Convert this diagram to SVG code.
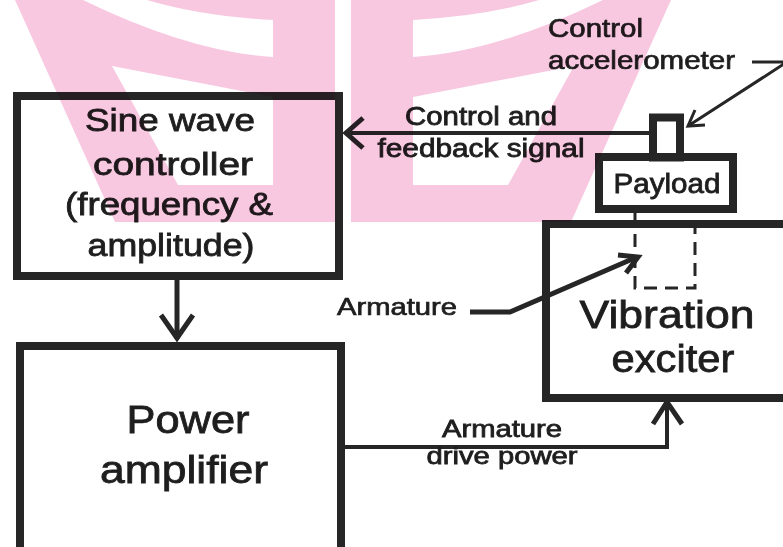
<svg xmlns="http://www.w3.org/2000/svg" width="783" height="547" viewBox="0 0 783 547">
<style>
.box{fill:none;stroke:#262626;stroke-width:8}
.ln{fill:none;stroke:#262626;stroke-linejoin:miter}
.t{font-family:"Liberation Sans",Arial,sans-serif;fill:#1e1e1e;stroke:#1e1e1e;stroke-width:0.8;text-anchor:middle}
.tl{font-family:"Liberation Sans",Arial,sans-serif;fill:#1e1e1e;stroke:#1e1e1e;stroke-width:0.7;text-anchor:start}
.wm{fill:#F8C8E1;fill-rule:evenodd}
</style>
<defs>
<path id="wmHalf" class="wm" d="M15,0 H335 V222 H115 Z M83,0 Q190,52 273,57 V20 Q200,16 147,0 Z M112,66 L273,97 V185 H178 Z"/>
</defs>
<rect x="0" y="0" width="783" height="547" fill="#fff"/>

<g id="sine-controller">
<rect class="box" x="17" y="96" width="322" height="180"/>
<text class="t" font-size="31" x="170" y="131" textLength="170" lengthAdjust="spacingAndGlyphs">Sine wave</text>
<text class="t" font-size="31" x="173" y="175" textLength="160" lengthAdjust="spacingAndGlyphs">controller</text>
<text class="t" font-size="31" x="169" y="215" textLength="208" lengthAdjust="spacingAndGlyphs">(frequency &amp;</text>
<text class="t" font-size="31" x="171" y="256" textLength="167" lengthAdjust="spacingAndGlyphs">amplitude)</text>
</g>

<g id="power-amplifier">
<rect class="box" x="20" y="346" width="321" height="230"/>
<text class="t" font-size="38" x="188" y="433" textLength="123" lengthAdjust="spacingAndGlyphs">Power</text>
<text class="t" font-size="38" x="184" y="483" textLength="168" lengthAdjust="spacingAndGlyphs">amplifier</text>
</g>

<g id="vibration-exciter">
<rect class="box" x="546" y="224" width="260" height="174"/>
<text class="t" font-size="39" x="667" y="328" textLength="175" lengthAdjust="spacingAndGlyphs">Vibration</text>
<text class="t" font-size="39" x="673" y="372" textLength="123" lengthAdjust="spacingAndGlyphs">exciter</text>
</g>

<g id="armature">
<path class="ln" d="M635,213 V288 H695 V213" stroke-width="3" stroke-dasharray="13 8"/>
<text class="tl" font-size="24" x="337" y="315" textLength="120" lengthAdjust="spacingAndGlyphs">Armature</text>
</g>

<g id="payload">
<rect class="box" x="599" y="157" width="134" height="52"/>
<text class="t" font-size="28" x="667" y="193" textLength="107" lengthAdjust="spacingAndGlyphs">Payload</text>
</g>

<g id="control-accelerometer">
<rect class="box" x="653" y="117.5" width="27" height="40" stroke-width="9"/>
<text class="tl" font-size="25" x="548" y="37" textLength="95" lengthAdjust="spacingAndGlyphs">Control</text>
<text class="tl" font-size="25" x="548" y="69" textLength="187" lengthAdjust="spacingAndGlyphs">accelerometer</text>
</g>

<g id="connectors">
<path class="ln" stroke-width="5" d="M177,280 V339"/>
<path class="ln" stroke-width="5" d="M161,315 L177,338 L193,315"/>
<path class="ln" stroke-width="4" d="M649,133 H346"/>
<path class="ln" stroke-width="5" d="M363,118 L346,133 L363,148"/>
<text class="t" font-size="25" x="481" y="125" textLength="152" lengthAdjust="spacingAndGlyphs">Control and</text>
<text class="t" font-size="25" x="481" y="157" textLength="207" lengthAdjust="spacingAndGlyphs">feedback signal</text>
<path class="ln" stroke-width="3" d="M752,62 H787 L688,126"/>
<path class="ln" stroke-width="3" d="M695,110 L688,126 L705,125"/>
<path class="ln" stroke-width="5" d="M470,312 H510 L637,257"/>
<path class="ln" stroke-width="5" d="M618,255 L638,257 L626,273"/>
<path class="ln" stroke-width="4" d="M343,447 H667 V403"/>
<path class="ln" stroke-width="5" d="M653,424 L667,402 L682,424"/>
<text class="t" font-size="24" x="502" y="437" textLength="120" lengthAdjust="spacingAndGlyphs">Armature</text>
<text class="t" font-size="24" x="502" y="464" textLength="151" lengthAdjust="spacingAndGlyphs">drive power</text>
</g>

<g id="watermark" style="mix-blend-mode:multiply">
<use href="#wmHalf"/>
<use href="#wmHalf" transform="matrix(-1 0 0 1 686 0)"/>
</g>
</svg>
